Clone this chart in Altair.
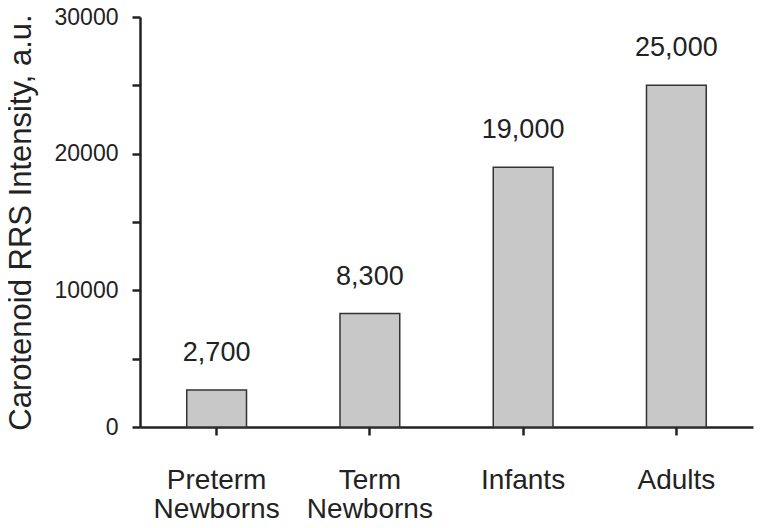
import altair as alt
import pandas as pd

categories = ["Preterm\nNewborns", "Term\nNewborns", "Infants", "Adults"]
values = [2700, 8300, 19000, 25000]
y_ticks = [0, 5000, 10000, 15000, 20000, 25000, 30000]

df = pd.DataFrame({"group": categories, "value": values})

FONT = "Liberation Sans"
INK = "#222222"

x_enc = alt.X(
    "group:N",
    sort=categories,
    title=None,
    scale=alt.Scale(paddingInner=0.61, paddingOuter=0.305),
    axis=alt.Axis(
        labelAngle=0,
        labelFontSize=28,
        labelFont=FONT,
        labelColor=INK,
        labelPadding=31,
        labelLineHeight=29,
        labelExpr="split(datum.label, '\\n')",
        tickSize=8,
        tickWidth=2.5,
        tickColor=INK,
        domainColor=INK,
        domainWidth=2.5,
        grid=False,
    ),
)

y_enc = alt.Y(
    "value:Q",
    title="Carotenoid RRS Intensity, a.u.",
    scale=alt.Scale(domain=[0, 30000], nice=False),
    axis=alt.Axis(
        values=y_ticks,
        labelExpr="datum.value % 10000 == 0 ? '' + datum.value : ''",
        labelFontSize=23,
        labelFont=FONT,
        labelColor=INK,
        labelPadding=14,
        tickSize=8,
        tickWidth=2.5,
        tickColor=INK,
        domainColor=INK,
        domainWidth=2.5,
        grid=False,
        titleFont=FONT,
        titleFontSize=31,
        titleFontWeight="normal",
        titleColor=INK,
        titlePadding=17,
    ),
)

bars = alt.Chart(df).mark_bar(
    fill="#c8c8c8", stroke="#333333", strokeWidth=1.5
).encode(x=x_enc, y=y_enc)

labels = alt.Chart(df).mark_text(
    font=FONT, fontSize=27, color=INK, baseline="alphabetic", dy=-29
).encode(
    x=alt.X("group:N", sort=categories),
    y=alt.Y("value:Q"),
    text=alt.Text("value:Q", format=","),
)

chart = (
    alt.layer(bars, labels)
    .properties(
        width=613,
        height=410,
        autosize=alt.AutoSizeParams(type="none"),
        padding={"left": 132, "top": 9, "right": 1, "bottom": 93},
        background="white",
    )
    .configure_view(stroke=None)
)

chart.save("out.html", embed_options={"renderer": "svg", "actions": False})
